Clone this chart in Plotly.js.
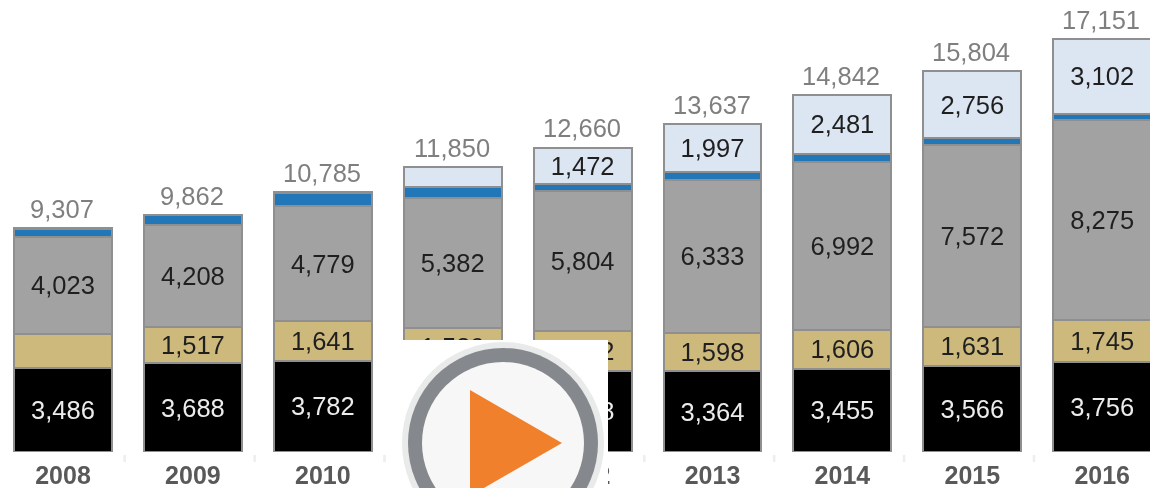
<!DOCTYPE html>
<html><head><meta charset="utf-8">
<script src="https://cdn.plot.ly/plotly-3.0.1.min.js"></script>
<style>html,body{margin:0;padding:0;background:#fff;overflow:hidden}#c{width:1150px;height:488px;filter:blur(0.6px)}</style>
</head><body><div id="c"></div>
<script>
const years = ['2008','2009','2010','2011','2012','2013','2014','2015','2016'];
const black = [3486,3688,3782,3561,3378,3364,3455,3566,3756];
const tan   = [1419,1517,1641,1589,1652,1598,1606,1631,1745];
const gray  = [4023,4208,4779,5382,5804,6333,6992,7572,8275];
const blue  = [339,419,553,488,308,345,308,279,273];
const light = [40,30,30,830,1472,1997,2481,2756,3102];
const totals = [9307,9862,10785,11850,12660,13637,14842,15804,17151];
const hideTan = ['2008'];
const showLight = ['2012','2013','2014','2015','2016'];

const fmt = v => v.toLocaleString('en-US');
const FONT = 'Liberation Sans, Arial, sans-serif';
const BORDER = '#8f8f8f';
const W = 1150, H = 488;
const px = v => v / W, py = v => (H - v) / H;

function bar(name, y, color, textColor, labels) {
  return {type:'bar', name, x:years, y, width:0.754,
    marker:{color, line:{color:BORDER, width:2}},
    text:labels, textposition:'inside', insidetextanchor:'middle', constraintext:'none',
    textangle:0, cliponaxis:true,
    textfont:{family:FONT, size:25.5, color:textColor}, hoverinfo:'skip'};
}
const traces = [
  bar('A', black, '#000000', '#ececec', black.map(fmt)),
  bar('B', tan, '#cdb97c', '#1f1f1f', tan.map((v,i)=>hideTan.includes(years[i])?'':fmt(v))),
  bar('C', gray, '#a1a2a1', '#1f1f1f', gray.map(fmt)),
  bar('D', blue, '#2277b9', '#1f1f1f', blue.map(()=>'')),
  bar('E', light, '#dce6f2', '#1f1f1f', light.map((v,i)=>showLight.includes(years[i])?fmt(v):''))
];

const annotations = years.map((y,i)=>({x:i, y:totals[i], xref:'x', yref:'y', text:fmt(totals[i]), showarrow:false,
  yanchor:'bottom', yshift:3, xshift:-1, font:{family:FONT, size:25.5, color:'#7f7f7f'}}));

const shapes = [];
years.forEach((y,i)=>{
  shapes.push({type:'rect', layer:'below', xref:'x', yref:'paper',
    x0:i+0.465, x1:i+0.485, y0:py(462), y1:py(455), fillcolor:'#eeeeee', line:{width:0}});
});
const circle = (r,c)=>({type:'circle', xref:'paper', yref:'paper', x0:px(503-r), x1:px(503+r),
  y0:py(443+r), y1:py(443-r), fillcolor:c, line:{width:0}});
shapes.push({type:'rect', xref:'paper', yref:'paper', x0:px(403), x1:px(608), y0:0, y1:py(340), fillcolor:'#ffffff', line:{width:0}});
shapes.push(circle(101,'#e9eaea'), circle(95,'#85888c'), circle(81,'#f7f7f7'));
shapes.push({type:'path', xref:'paper', yref:'paper',
  path:`M ${px(470)} ${py(390)} L ${px(562)} ${py(443)} L ${px(470)} ${py(496)} Z`, fillcolor:'#f0802c', line:{width:0}});

Plotly.newPlot('c', traces, {
  width:W, height:H, barmode:'stack', showlegend:false,
  margin:{l:0,r:0,t:0,b:0}, paper_bgcolor:'#fff', plot_bgcolor:'#fff',
  xaxis:{type:'category', range:[-0.485,8.368], domain:[0,1], showgrid:false, zeroline:false, showline:false,
    ticks:'', tickfont:{family:FONT, size:25, color:'#595959', weight:700}, ticklabelstandoff:6},
  yaxis:{range:[0,18771], domain:[36/H,1], visible:false},
  shapes, annotations
}, {displayModeBar:false, staticPlot:true});
</script></body></html>
